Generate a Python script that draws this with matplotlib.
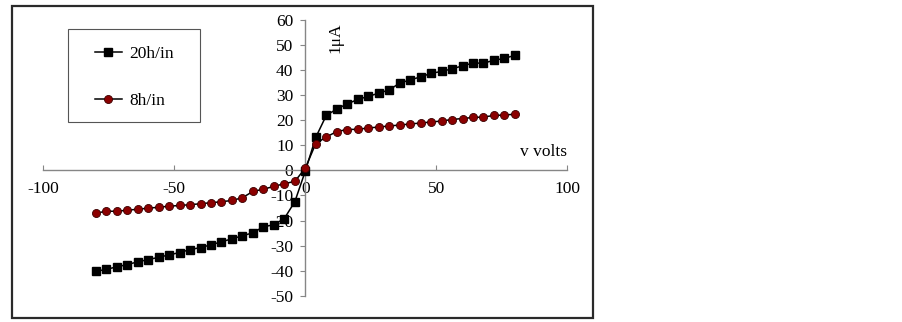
import matplotlib
matplotlib.use("Agg")
import matplotlib.pyplot as plt
from matplotlib.patches import Rectangle

plt.rcParams['font.family'] = ['Liberation Serif', 'DejaVu Serif']
plt.rcParams['axes.unicode_minus'] = False

volts = [-80, -76, -72, -68, -64, -60, -56, -52, -48, -44, -40, -36, -32, -28, -24, -20,
         -16, -12, -8, -4, 0, 4, 8, 12, 16, 20, 24, 28, 32, 36, 40, 44, 48, 52, 56, 60,
         64, 68, 72, 76, 80]
i_20h = [-40.3, -39.5, -38.5, -37.6, -36.5, -35.6, -34.7, -33.7, -32.8, -31.6, -30.8,
         -29.7, -28.5, -27.3, -26.1, -24.9, -22.5, -21.7, -19.2, -12.5, -0.3,
         13.2, 21.9, 24.5, 26.5, 28.3, 29.5, 30.8, 32.1, 34.8, 36.1, 37.3, 38.7, 39.5,
         40.5, 41.7, 42.8, 42.8, 43.9, 44.7, 45.9]
i_8h = [-17.1, -16.3, -16.3, -15.9, -15.5, -15.1, -14.7, -14.3, -14.0, -13.7, -13.3,
        -12.9, -12.5, -12.0, -10.9, -8.4, -7.5, -6.4, -5.3, -4.4, 0.9,
        10.7, 13.3, 15.5, 16.3, 16.4, 16.9, 17.3, 17.7, 18.1, 18.5, 18.9, 19.3, 19.7,
        20.3, 20.7, 21.1, 21.3, 21.9, 22.1, 22.4]
labels = ["20h/in", "8h/in"]
xticks = [-100, -50, 0, 50, 100]
yticks = [-50, -40, -30, -20, -10, 0, 10, 20, 30, 40, 50, 60]

W, H = 902, 322
fig = plt.figure(figsize=(W / 100, H / 100), dpi=100)
ax = fig.add_axes([43.3 / W, (H - 295.7) / H, 524 / W, 275.7 / H])
ax.patch.set_alpha(0)

ax.plot(volts, i_20h, color='black', lw=1.1, marker='s', ms=5.4,
        mfc='black', mec='black', label=labels[0], zorder=3)
ax.plot(volts, i_8h, color='black', lw=1.1, marker='o', ms=5.8,
        mfc='#8B0000', mec='#3a0000', mew=0.6, label=labels[1], zorder=3)

ax.set_xlim(-100, 100)
ax.set_ylim(-50, 60)
ax.spines['left'].set_position(('data', 0))
ax.spines['bottom'].set_position(('data', 0))
ax.spines['top'].set_visible(False)
ax.spines['right'].set_visible(False)
for s in ('left', 'bottom'):
    ax.spines[s].set_color('#868686')
    ax.spines[s].set_linewidth(1.0)
ax.set_xticks(xticks)
ax.set_yticks(yticks)
ax.tick_params(axis='x', direction='in', length=3.5, color='#868686', pad=8,
               labelsize=12.5)
ax.tick_params(axis='y', direction='out', length=3.5, color='#868686', pad=5,
               labelsize=12.5)

# legend box drawn as a plain rectangle, entries placed inside without frame
fig.patches.append(Rectangle((68 / W, 1 - 122 / H), (200 - 68) / W, (122 - 29) / H,
                             transform=fig.transFigure, fill=False,
                             edgecolor='#555555', linewidth=0.8))
leg = ax.legend(loc='upper left', bbox_to_anchor=(95 / W, 1 - 46 / H),
                bbox_transform=fig.transFigure, frameon=False,
                fontsize=12.5, labelspacing=1.75,
                borderpad=0, handlelength=1.55, handletextpad=0.45,
                borderaxespad=0)

fig.text(335 / W, 1 - 38 / H, "1μA", rotation=90, ha='center', va='center',
         fontsize=12.5)
fig.text(544 / W, 1 - 152 / H, "v volts", ha='center', va='center', fontsize=12.5)

fig.patches.append(Rectangle((12 / W, 1 - 318 / H), (593 - 12) / W, (318 - 6) / H,
                             transform=fig.transFigure, fill=False,
                             edgecolor='#2a2a2a', linewidth=1.6))

fig.savefig("out.png", dpi=100)
